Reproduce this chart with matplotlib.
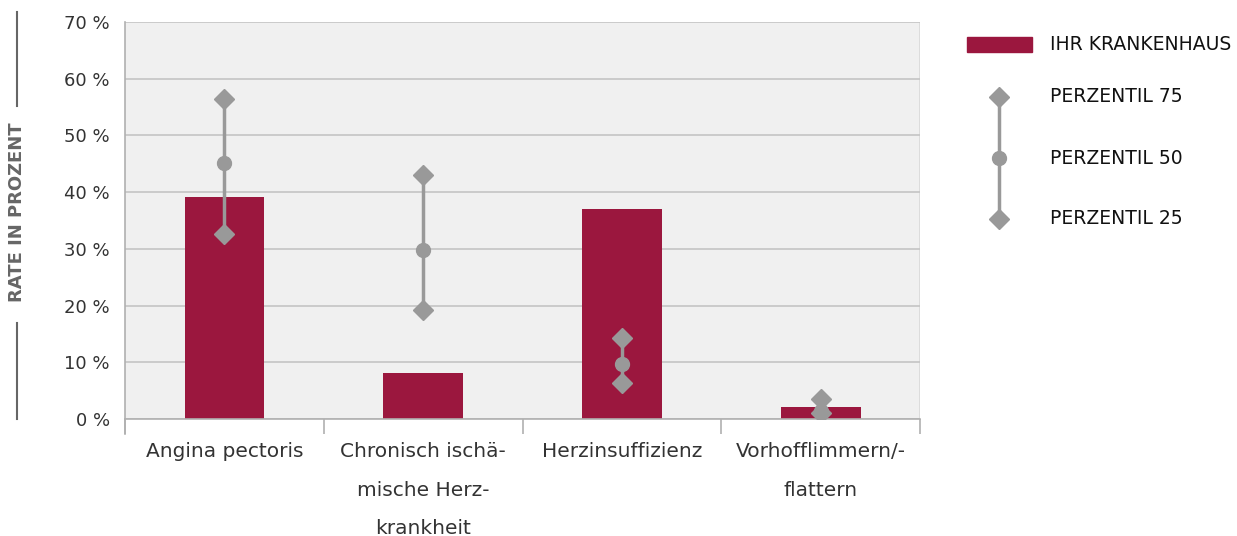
"""Rate chart: hospital rates per diagnosis against percentile benchmarks."""

import matplotlib
matplotlib.use("Agg")
import matplotlib.pyplot as plt
from matplotlib.lines import Line2D

categories = [
    "Angina pectoris",
    "Chronisch ischä-\nmische Herz-\nkrankheit",
    "Herzinsuffizienz",
    "Vorhofflimmern/-\nflattern",
]
hospital = [39.2, 8.1, 37.0, 2.1]
p75 = [56.4, 43.0, 14.3, 3.5]
p50 = [45.1, 29.8, 9.7, 1.4]
p25 = [32.6, 19.2, 6.3, 1.1]

BAR = "#9b173e"
GREY = "#999999"
TEXT = "#333333"


def main():
    fig = plt.figure(figsize=(12.37, 5.36), dpi=100)
    ax = fig.add_axes([0.101, 0.218, 0.643, 0.741])
    ax.set_facecolor("#f0f0f0")

    x = range(len(categories))
    ax.bar(x, hospital, width=0.4, color=BAR, zorder=2)
    for i in x:
        ax.plot([i, i], [p25[i], p75[i]], color=GREY, lw=2.5, zorder=3)
    ax.plot(x, p75, "D", color=GREY, ms=10, ls="none", zorder=4)
    ax.plot(x, p50, "o", color=GREY, ms=10, ls="none", zorder=4)
    ax.plot(x, p25, "D", color=GREY, ms=10, ls="none", zorder=4)

    ax.set_xlim(-0.5, 3.5)
    ax.set_ylim(0, 70)
    ax.set_yticks(range(0, 71, 10))
    ax.set_yticklabels([f"{v} %" for v in range(0, 71, 10)], fontsize=13, color=TEXT)
    ax.yaxis.grid(True, color="#c4c4c4", lw=1.2, zorder=1)
    ax.tick_params(axis="y", length=0, pad=11)

    ax.set_xticks(list(x))
    ax.set_xticklabels(categories, fontsize=14.5, color=TEXT, linespacing=2.3)
    ax.set_xticks([-0.5, 0.5, 1.5, 2.5, 3.5], minor=True)
    ax.tick_params(axis="x", which="major", length=0, pad=16.5)
    ax.tick_params(axis="x", which="minor", length=11, width=1.2, color="#b0b0b0")

    for side in ["top", "right"]:
        ax.spines[side].set_visible(False)
    for side in ["left", "bottom"]:
        ax.spines[side].set_color("#b0b0b0")
        ax.spines[side].set_linewidth(1.2)
    # left spine continues below the axis like the boundary ticks
    ax.plot([-0.5, -0.5], [0, -2.7], color="#b0b0b0", lw=1.2, clip_on=False)
    ax.plot([3.5, 3.5], [0, 70], color="#d8d8d8", lw=1.2, zorder=1)

    # y label with rules above and below
    fig.text(0.014, 0.605, "RATE IN PROZENT", rotation=90, ha="center", va="center",
             fontsize=13, fontweight="bold", color="#666666",
             family=["Liberation Sans Narrow", "DejaVu Sans"])
    fig.add_artist(Line2D([0.014, 0.014], [1 - 12 / 536, 1 - 106 / 536], color="#666666", lw=1.5))
    fig.add_artist(Line2D([0.014, 0.014], [1 - 323 / 536, 1 - 419 / 536], color="#666666", lw=1.5))

    # legend
    fig.add_artist(plt.Rectangle((967 / 1237, 1 - 52 / 536), 65 / 1237, 15 / 536,
                                 color=BAR, transform=fig.transFigure))
    lx = 999 / 1237
    ys = [1 - 97 / 536, 1 - 158 / 536, 1 - 219 / 536]
    fig.add_artist(Line2D([lx, lx], [ys[0], ys[2]], color=GREY, lw=2.5))
    fig.add_artist(Line2D([lx], [ys[0]], marker="D", ms=10, color=GREY))
    fig.add_artist(Line2D([lx], [ys[1]], marker="o", ms=10, color=GREY))
    fig.add_artist(Line2D([lx], [ys[2]], marker="D", ms=10, color=GREY))
    tx = 1050 / 1237
    fig.text(tx, 1 - 45 / 536, "IHR KRANKENHAUS", fontsize=13.5, va="center", color="#111111")
    for y, lab in zip(ys, ["PERZENTIL 75", "PERZENTIL 50", "PERZENTIL 25"]):
        fig.text(tx, y, lab, fontsize=13.5, va="center", color="#111111")

    fig.savefig("out.png", dpi=100)
    plt.close(fig)


if __name__ == "__main__":
    main()
